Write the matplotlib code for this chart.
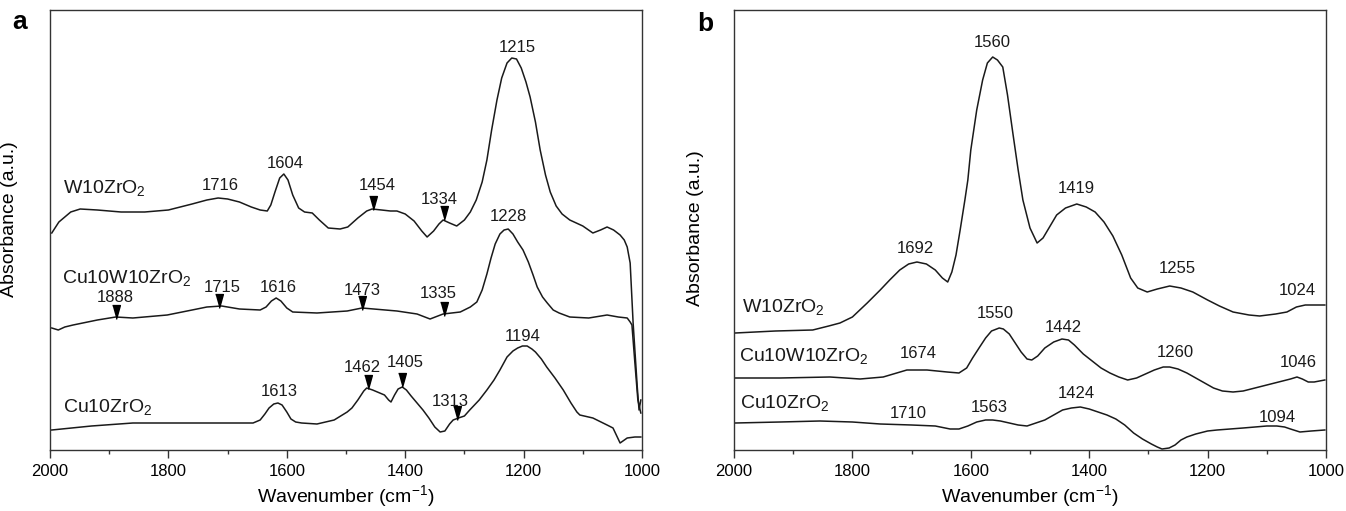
import numpy as np
import matplotlib
matplotlib.use("Agg")
import matplotlib.pyplot as plt
from matplotlib.ticker import MultipleLocator

plt.rcParams["font.family"] = ["Liberation Sans", "DejaVu Sans"]
plt.rcParams["mathtext.fontset"] = "custom"
plt.rcParams["mathtext.rm"] = "Liberation Sans"
plt.rcParams["mathtext.default"] = "regular"

# ---- panel a: spectra (wavenumber, absorbance in arbitrary offset units)
a_w10_x = [1997, 1985, 1965, 1949, 1920, 1880, 1840, 1800, 1760, 1735, 1716, 1700,
           1680, 1660, 1645, 1633, 1627, 1620, 1612, 1605, 1598, 1590, 1580, 1570,
           1557, 1545, 1530, 1510, 1497, 1480, 1465, 1456, 1440, 1425, 1414, 1400,
           1385, 1372, 1363, 1352, 1343, 1336, 1325, 1313, 1300, 1290, 1280, 1270,
           1262, 1254, 1245, 1237, 1228, 1220, 1212, 1204, 1196, 1189, 1180, 1172,
           1163, 1155, 1145, 1135, 1122, 1100, 1083, 1070, 1059, 1048, 1037, 1030,
           1025, 1020, 1015, 1008, 1005, 1002]
a_w10_y = [217, 228, 238, 241, 240, 238, 238, 240, 246, 250, 252, 251,
           248, 243, 240, 239, 245, 258, 272, 276, 270, 255, 242, 238,
           237, 230, 222, 221, 223, 232, 239, 241, 240, 239, 239, 236,
           229, 219, 213, 219, 226, 230, 227, 224, 230, 238, 250, 268,
           290, 320, 350, 372, 387, 392, 391, 382, 368, 353, 328, 300,
           275, 258, 244, 236, 230, 224, 217, 220, 223, 220, 215, 210,
           203, 187, 127, 63, 40, 50]

a_cuw_x = [1997, 1986, 1975, 1961, 1920, 1889, 1860, 1802, 1760, 1735, 1710, 1680,
           1645, 1635, 1626, 1618, 1610, 1600, 1590, 1549, 1498, 1473, 1414, 1380,
           1358, 1336, 1307, 1290, 1279, 1270, 1262, 1255, 1248, 1240, 1233, 1226,
           1218, 1210, 1201, 1192, 1184, 1177, 1168, 1160, 1150, 1140, 1122, 1090,
           1059, 1040, 1025, 1020, 1017, 1012, 1007, 1002]
a_cuw_y = [122, 120, 123, 125, 130, 133, 132, 135, 140, 143, 144, 141,
           140, 143, 149, 152, 149, 142, 138, 137, 139, 142, 139, 136,
           131, 136, 138, 143, 148, 160, 176, 192, 206, 216, 220, 221,
           216, 208, 200, 188, 175, 163, 153, 147, 140, 137, 133, 132,
           135, 133, 132, 128, 125, 87, 50, 37]

a_cu_x = [1997, 1930, 1860, 1760, 1657, 1645, 1637, 1630, 1622, 1615, 1608, 1600,
          1593, 1585, 1575, 1549, 1520, 1498, 1490, 1480, 1470, 1465, 1455, 1443,
          1435, 1428, 1424, 1418, 1412, 1405, 1398, 1390, 1380, 1370, 1360, 1350,
          1341, 1333, 1325, 1319, 1310, 1300, 1291, 1275, 1262, 1250, 1240, 1228,
          1218, 1210, 1202, 1194, 1186, 1180, 1170, 1161, 1147, 1133, 1120, 1110,
          1105, 1083, 1059, 1049, 1037, 1025, 1012, 1002]
a_cu_y = [20, 24, 27, 27, 27, 30, 36, 42, 46, 47, 45, 38,
          31, 28, 27, 26, 30, 38, 42, 50, 59, 62, 60, 57,
          55, 50, 48, 55, 61, 63, 60, 54, 47, 40, 32, 23,
          18, 19, 26, 30, 32, 34, 40, 50, 60, 70, 80, 93,
          99, 102, 104, 104, 101, 98, 91, 83, 72, 60, 47, 38,
          35, 32, 25, 22, 7, 12, 13, 13]

# ---- panel b
b_w10_x = [1998, 1930, 1867, 1840, 1821, 1800, 1775, 1753, 1737, 1720, 1705, 1691,
           1675, 1660, 1648, 1639, 1632, 1625, 1618, 1610, 1605, 1600, 1590, 1580,
           1572, 1563, 1555, 1546, 1538, 1529, 1520, 1512, 1500, 1488, 1478, 1468,
           1455, 1440, 1421, 1405, 1390, 1375, 1360, 1345, 1330, 1318, 1302, 1285,
           1264, 1245, 1225, 1200, 1180, 1157, 1130, 1112, 1085, 1066, 1050, 1035,
           1002]
b_w10_y = [117, 119, 120, 124, 127, 133, 147, 160, 170, 180, 186, 188,
           186, 180, 172, 168, 178, 195, 220, 250, 270, 300, 340, 370,
           387, 393, 390, 383, 355, 317, 280, 250, 222, 207, 212, 222,
           235, 242, 246, 243, 238, 228, 214, 195, 172, 162, 158, 161,
           164, 162, 158, 150, 144, 138, 135, 134, 136, 138, 143, 145,
           145]

b_cuw_x = [1998, 1922, 1838, 1787, 1748, 1708, 1674, 1640, 1620, 1607, 1597, 1585,
           1575, 1565, 1552, 1545, 1535, 1525, 1515, 1505, 1497, 1487, 1475, 1460,
           1446, 1435, 1425, 1410, 1395, 1380, 1365, 1350, 1335, 1320, 1305, 1290,
           1275, 1264, 1250, 1235, 1220, 1205, 1190, 1175, 1157, 1140, 1120, 1100,
           1080, 1060, 1049, 1040, 1030, 1020, 1002]
b_cuw_y = [72, 72, 73, 71, 73, 80, 80, 78, 77, 82, 92, 103,
           112, 119, 122, 121, 116, 107, 98, 91, 90, 94, 102, 108,
           111, 110, 105, 96, 89, 82, 77, 73, 70, 72, 76, 80,
           83, 83, 81, 77, 72, 67, 62, 59, 58, 59, 62, 65,
           68, 71, 73, 71, 68, 68, 70]

b_cu_x = [1998, 1922, 1855, 1800, 1753, 1700, 1660, 1635, 1620, 1605, 1590, 1575,
          1563, 1550, 1535, 1520, 1505, 1490, 1475, 1460, 1445, 1430, 1415, 1400,
          1385, 1370, 1355, 1340, 1325, 1310, 1295, 1285, 1277, 1265, 1255, 1245,
          1235, 1220, 1200, 1184, 1140, 1100, 1083, 1070, 1060, 1044, 1025, 1002]
b_cu_y = [27, 28, 29, 28, 26, 25, 24, 21, 21, 24, 28, 30,
          30, 29, 27, 25, 24, 27, 30, 35, 40, 42, 43, 41,
          38, 35, 31, 25, 17, 11, 6, 3, 1, 2, 5, 10,
          13, 16, 19, 20, 22, 24, 24, 23, 21, 18, 19, 20]

# sample names: (text, x, y)
a_names = [("W10ZrO$_2$", 1978, 262), ("Cu10W10ZrO$_2$", 1980, 172),
           ("Cu10ZrO$_2$", 1978, 43)]
b_names = [("W10ZrO$_2$", 1986, 143), ("Cu10W10ZrO$_2$", 1992, 94),
           ("Cu10ZrO$_2$", 1990, 47)]

# peak labels: (text, x, y)
a_peaks = [("1716", 1713, 265), ("1604", 1603, 287), ("1454", 1448, 265),
           ("1334", 1343, 251), ("1215", 1210, 403), ("1228", 1226, 234),
           ("1888", 1889, 153), ("1715", 1709, 163), ("1616", 1615, 163),
           ("1473", 1473, 160), ("1335", 1345, 157), ("1613", 1612, 59),
           ("1462", 1473, 83), ("1405", 1400, 88), ("1313", 1324, 49),
           ("1194", 1201, 114)]
# arrowheads (wavenumber, tip y)
a_arrows = [(1454, 242), (1334, 232), (1888, 133), (1715, 144), (1473, 142),
            (1335, 136), (1462, 63), (1405, 65), (1313, 32)]

b_peaks = [("1560", 1564, 408), ("1692", 1694, 202), ("1419", 1421, 262),
           ("1255", 1252, 182), ("1024", 1049, 160), ("1550", 1559, 137),
           ("1674", 1689, 97), ("1442", 1444, 123), ("1260", 1255, 98),
           ("1046", 1047, 88), ("1710", 1706, 37), ("1563", 1568, 43),
           ("1424", 1421, 57), ("1094", 1083, 33)]

W, H = 1346, 511
fig = plt.figure(figsize=(W / 100, H / 100), dpi=100)
ax_a = fig.add_axes([50 / W, (H - 450) / H, 592 / W, 440 / H])
ax_b = fig.add_axes([734 / W, (H - 450) / H, 592 / W, 440 / H])

tri = [(-0.28, 0.5), (0.28, 0.5), (0.0, -0.5)]
ink = "#1a1a1a"


def setup(ax):
    ax.set_xlim(2000, 1000)
    ax.set_ylim(0, 440)
    ax.xaxis.set_major_locator(MultipleLocator(200))
    ax.xaxis.set_minor_locator(MultipleLocator(100))
    ax.tick_params(axis="x", which="major", direction="out", length=6, width=1,
                   labelsize=12, pad=4, color="#333333")
    ax.tick_params(axis="x", which="minor", direction="out", length=3, width=1,
                   color="#333333")
    ax.set_yticks([])
    for s in ax.spines.values():
        s.set_color("#333333")
        s.set_linewidth(1.0)
    ax.set_xlabel("Wavenumber (cm$^{-1}$)", fontsize=14, labelpad=3)
    ax.set_ylabel("Absorbance (a.u.)", fontsize=14)


for ax, curves, names, peaks in [
    (ax_a, [(a_w10_x, a_w10_y), (a_cuw_x, a_cuw_y), (a_cu_x, a_cu_y)], a_names, a_peaks),
    (ax_b, [(b_w10_x, b_w10_y), (b_cuw_x, b_cuw_y), (b_cu_x, b_cu_y)], b_names, b_peaks),
]:
    setup(ax)
    for x, y in curves:
        ax.plot(x, y, color=ink, lw=1.1)
    for t, x, y in names:
        ax.text(x, y, t, fontsize=14, ha="left", va="center", color=ink)
    for t, x, y in peaks:
        ax.text(x, y, t, fontsize=12, ha="center", va="center", color=ink)

for x, tip in a_arrows:
    ax_a.plot([x], [tip + 5], marker=tri, markersize=10, color="black", linestyle="none")

ax_a.yaxis.set_label_coords(-32 / 592, 0.525)
ax_b.yaxis.set_label_coords(-30 / 592, 0.505)

fig.text(20 / W, 1 - 22 / H, "a", fontsize=19, fontweight="bold", ha="center", va="center")
fig.text(705 / W, 1 - 24 / H, "b", fontsize=19, fontweight="bold", ha="center", va="center")

fig.savefig("out.png", dpi=100)
